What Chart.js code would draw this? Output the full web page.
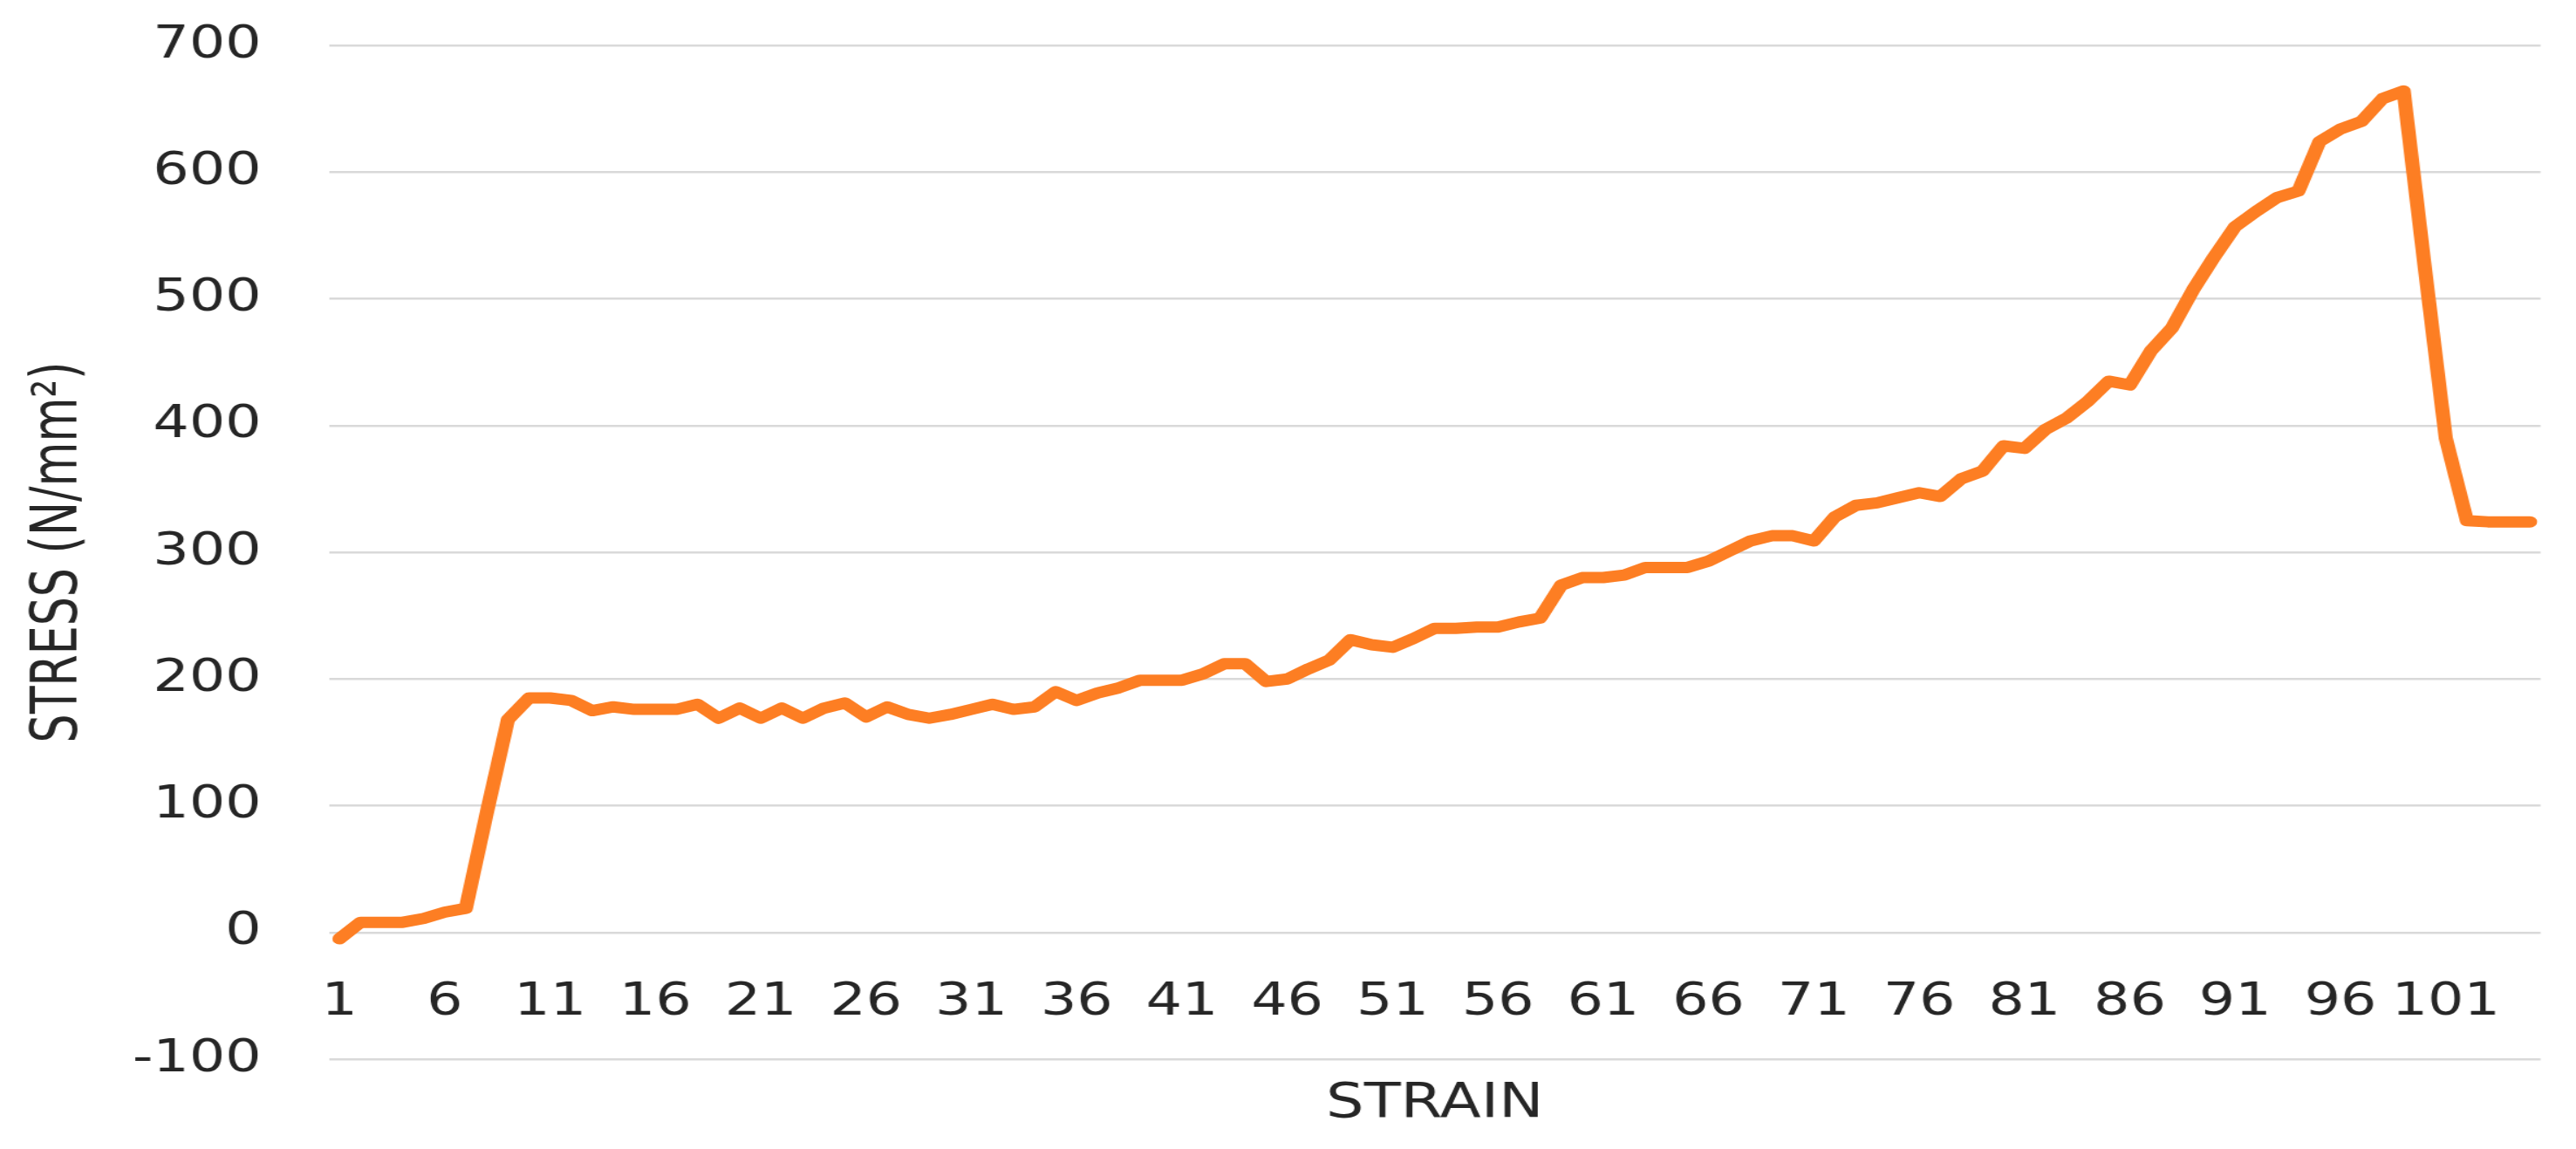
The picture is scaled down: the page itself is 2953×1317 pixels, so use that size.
<!DOCTYPE html>
<html>
<head>
<meta charset="utf-8">
<title>Stress vs Strain</title>
<script src="https://cdn.jsdelivr.net/npm/chart.js@4.4.1/dist/chart.umd.min.js"></script>
<style>
  html, body { margin: 0; padding: 0; background: #ffffff; }
  #stressChart { display: block; }
</style>
</head>
<body>
<!-- canvas is drawn narrower and stretched sideways, like the source picture -->
<canvas id="stressChart" width="2362" height="1317" style="width:2953px;height:1317px"></canvas>
<script>
const strain = [
  "1", "2", "3", "4", "5", "6", "7", "8", "9", "10",
  "11", "12", "13", "14", "15", "16", "17", "18", "19", "20",
  "21", "22", "23", "24", "25", "26", "27", "28", "29", "30",
  "31", "32", "33", "34", "35", "36", "37", "38", "39", "40",
  "41", "42", "43", "44", "45", "46", "47", "48", "49", "50",
  "51", "52", "53", "54", "55", "56", "57", "58", "59", "60",
  "61", "62", "63", "64", "65", "66", "67", "68", "69", "70",
  "71", "72", "73", "74", "75", "76", "77", "78", "79", "80",
  "81", "82", "83", "84", "85", "86", "87", "88", "89", "90",
  "91", "92", "93", "94", "95", "96", "97", "98", "99", "100",
  "101", "102", "103", "104", "105"
];

// stress in N/mm2
const stress = [
  -5, 8, 8, 8, 11, 16, 19, 95, 168, 185,
  185, 183, 175, 178, 176, 176, 176, 180, 169, 177,
  169, 177, 169, 177, 181, 170, 178, 172, 169, 172,
  176, 180, 176, 178, 190, 183, 189, 193, 199, 199,
  199, 204, 212, 212, 198, 200, 208, 215, 231, 227,
  225, 232, 240, 240, 241, 241, 245, 248, 274, 280,
  280, 282, 288, 288, 288, 293, 301, 309, 313, 313,
  309, 328, 337, 339, 343, 347, 344, 358, 364, 384,
  382, 397, 406, 419, 435, 432, 459, 477, 507, 533,
  557, 569, 580, 585, 624, 634, 640, 658, 664, 525,
  390, 325, 324, 324, 324
];

const xTickLabels = ["1", "6", "11", "16", "21", "26", "31", "36", "41", "46", "51",
  "56", "61", "66", "71", "76", "81", "86", "91", "96", "101"];

const yMin = -100;
const yMax = 700;
const yStep = 100;

const textColor = "#262626";
const gridColor = "#d9d9d9";

const ctx = document.getElementById("stressChart").getContext("2d");

const stressChart = new Chart(ctx, {
  type: "line",
  data: {
    labels: strain,
    datasets: [
      {
        label: "Stress",
        data: stress,
        borderColor: "#fd7e23",
        backgroundColor: "#fd7e23",
        borderWidth: 13,
        borderJoinStyle: "round",
        borderCapStyle: "round",
        pointRadius: 0,
        tension: 0,
        fill: false,
      },
    ],
  },
  options: {
    responsive: false,
    animation: false,
    layout: {
      padding: { top: 52, right: 16, bottom: 0, left: 0 },
    },
    plugins: {
      legend: { display: false },
      tooltip: { enabled: false },
      title: {
        display: true,
        text: "STRAIN",
        position: "bottom",
        fullSize: false,
        color: textColor,
        font: { family: "'DejaVu Sans', Verdana, sans-serif", size: 55, weight: "normal" },
        padding: { top: 19, bottom: 18 },
      },
    },
    scales: {
      x: {
        type: "category",
        offset: true,
        position: { y: 0 },
        grid: { display: false },
        border: { display: false },
        ticks: {
          autoSkip: false,
          maxRotation: 0,
          padding: 42,
          color: textColor,
          font: { family: "'DejaVu Sans', Verdana, sans-serif", size: 52 },
          callback: function (value, index) {
            const lbl = this.getLabelForValue(value);
            return xTickLabels.includes(lbl) ? lbl : "";
          },
        },
      },
      y: {
        min: yMin,
        max: yMax,
        afterFit: function (scale) {
          // fixed axis width; the wide tick padding should not push the plot down
          scale.width = 301.6;
          scale.paddingTop = 0;
          scale.paddingBottom = 0;
        },
        grid: {
          color: gridColor,
          lineWidth: 2.5,
          drawTicks: false,
        },
        border: { display: false },
        ticks: {
          stepSize: yStep,
          padding: 62,
          color: textColor,
          font: { family: "'DejaVu Sans', Verdana, sans-serif", size: 52 },
        },
        title: {
          display: true,
          text: "STRESS (N/mm²)",
          color: textColor,
          font: {
            family: "'DejaVu Sans Condensed', 'Liberation Sans Narrow', Roboto, sans-serif",
            size: 58,
          },
          padding: { top: 20, bottom: 0 },
        },
      },
    },
  },
});
</script>
</body>
</html>
